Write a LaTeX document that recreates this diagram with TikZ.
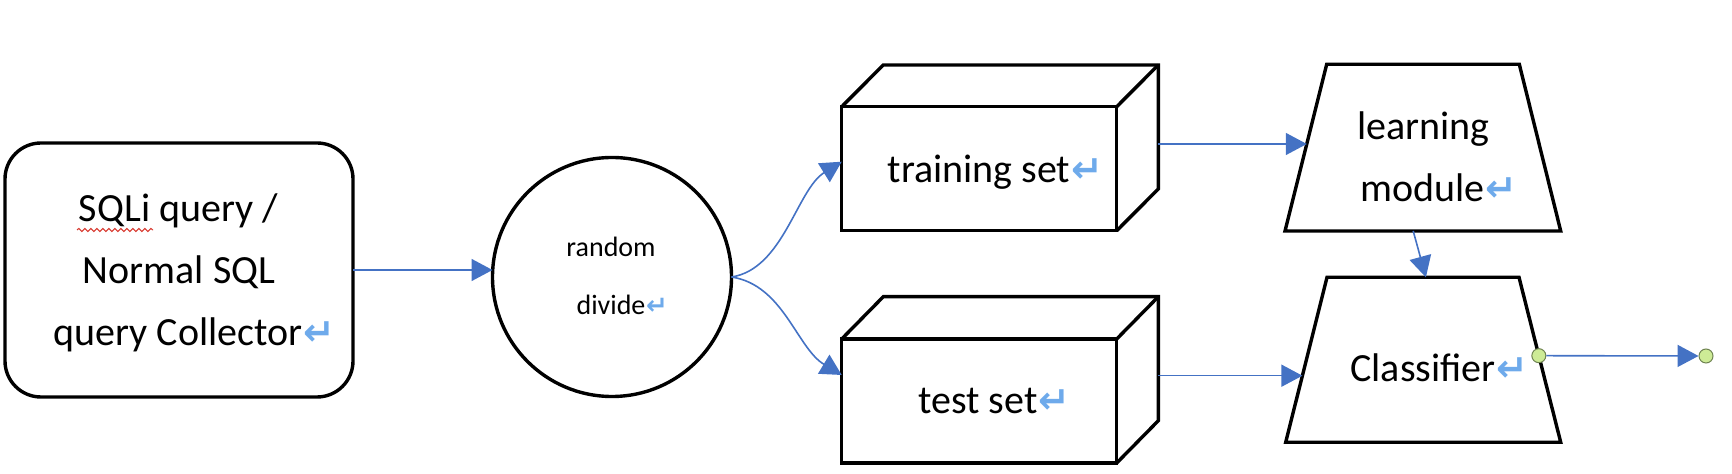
\documentclass[tikz,border=0pt]{standalone}
\usepackage{fontspec}
\setmainfont{Carlito}
\newfontfamily\symfont{DejaVu Sans}
\usetikzlibrary{arrows.meta,decorations.pathmorphing,calc}
\definecolor{wblue}{RGB}{68,114,196}
\definecolor{pmark}{RGB}{110,170,235}
\definecolor{dotgreen}{RGB}{205,235,150}
\definecolor{dotedge}{RGB}{110,130,80}
\definecolor{spellred}{RGB}{215,55,45}
\newcommand{\parmarkbig}{\rlap{\kern0.5pt{\symfont\bfseries\fontsize{19pt}{19pt}\selectfont\color{pmark}\char"21B5}}}
\newcommand{\parmarksmall}{\rlap{\kern0.3pt{\symfont\bfseries\fontsize{13pt}{13pt}\selectfont\color{pmark}\char"21B5}}}
\tikzset{
  shp/.style={draw=black, line width=1.7pt, outer sep=0pt, inner sep=0pt},
  cubeln/.style={draw=black, line width=1.7pt},
  arr/.style={draw=wblue, line width=0.8pt, -{Triangle[length=10.5pt,width=11pt]}},
  bigtxt/.style={font=\fontsize{20pt}{24pt}\selectfont, anchor=base, inner sep=0pt},
  smalltxt/.style={font=\fontsize{14pt}{17pt}\selectfont, anchor=base, inner sep=0pt},
  enddot/.style={circle, draw=dotedge, fill=dotgreen, line width=0.5pt, minimum size=7pt, inner sep=0pt},
}
\begin{document}
\begin{tikzpicture}[x=0.5pt,y=-0.5pt]
\useasboundingbox (0,0) rectangle (1732,474);

% source box
\node[shp, rounded corners=18pt, minimum width=174pt, minimum height=127pt] (src) at (179,270) {};
\node[bigtxt] (src1) at (178.5,222) {SQLi query /};
\node[bigtxt] (src2) at (179,284) {Normal SQL};
\node[bigtxt] (src3) at (178,346) {query Collector\parmarkbig};
\draw[spellred, line width=0.5pt, decorate, decoration={snake, amplitude=0.8pt, segment length=3pt}]
  ($(src1.base)+(-101.5,8)$) -- ($(src1.base)+(-25.5,8)$);

% random divide
\node[shp, circle, minimum size=119.5pt] (dv) at (612,277) {};
\node[smalltxt] (dv1) at (611,257) {random};
\node[smalltxt] (dv2) at (611,315) {divide\parmarksmall};

% training set cube
\node[shp, minimum width=137.5pt, minimum height=62pt] (train) at (979.2,168.7) {};
\draw[cubeln] (train.north west) -- ++(41.6,-41.7) -- ++(275,0) -- ++(0,124) -- (train.south east);
\draw[cubeln] (train.north east) -- ++(41.6,-41.7);
\node[bigtxt] (train1) at (979,182.7) {training set\parmarkbig};

% test set cube
\node[shp, minimum width=137.5pt, minimum height=62pt] (test) at (979.2,401) {};
\draw[cubeln] (test.north west) -- ++(41.6,-42.3) -- ++(275,0) -- ++(0,124) -- (test.south east);
\draw[cubeln] (test.north east) -- ++(41.6,-42.3);
\node[bigtxt] (test1) at (978,414) {test set\parmarkbig};

% learning module (trapezium)
\coordinate (lTL) at (1326.7,64.3);
\coordinate (lTR) at (1519.3,64.3);
\coordinate (lBR) at (1560.7,231);
\coordinate (lBL) at (1285,231);
\draw[shp] (lTL) -- (lTR) -- (lBR) -- (lBL) -- cycle;
\node[bigtxt] (learn1) at (1423.5,140) {learning};
\node[bigtxt] (learn2) at (1422.5,202) {module\parmarkbig};

% classifier (trapezium)
\coordinate (cTL) at (1327,277.3);
\coordinate (cTR) at (1519,277.3);
\coordinate (cBR) at (1560.7,442.3);
\coordinate (cBL) at (1285.7,442.3);
\draw[shp] (cTL) -- (cTR) -- (cBR) -- (cBL) -- cycle;
\node[bigtxt] (cls1) at (1423,382) {Classifier\parmarkbig};

% output dots
\node[enddot] (od1) at ($(cTR)!0.475!(cBR)$) {};
\node[enddot] (od2) at (1706,356) {};

% connectors
\draw[arr] (src.east) -- (src.east -| dv.west);
\draw[arr] (dv.east) .. controls +(52,-8) and +(-45,28) .. ($(train.west)+(0,-7)$);
\draw[arr] (dv.east) .. controls +(52,8) and +(-45,-27) .. ($(test.west)+(0,-26)$);
\coordinate (tA) at ($(train.east)+(41.6,-24.7)$);
\coordinate (lL) at ($(lTL)!0.478!(lBL)$);
\draw[arr] (tA) -- (tA -| lL);
\coordinate (sA) at ($(test.east)+(41.6,-25.3)$);
\coordinate (cL) at ($(cTL)!0.596!(cBL)$);
\draw[arr] (sA) -- (sA -| cL);
\draw[arr] ($(lBL)!0.465!(lBR)$) -- ($(cTL)!0.515!(cTR)$);
\draw[arr] (od1) -- (od2);
\end{tikzpicture}
\end{document}
